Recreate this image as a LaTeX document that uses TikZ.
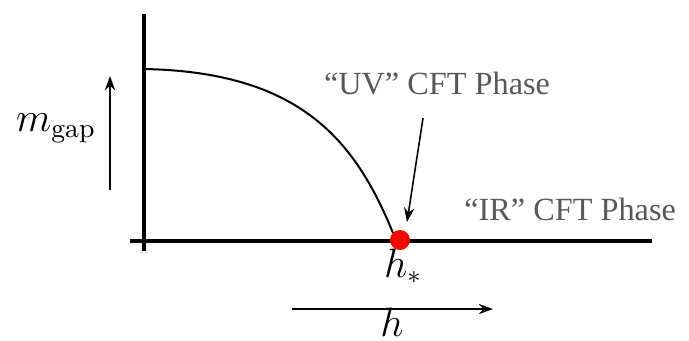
\documentclass[tikz,border=0pt]{standalone}
\usepackage{amsmath}
\usepackage{fontspec}
\newfontfamily\labelfont{Liberation Serif}
\usetikzlibrary{arrows.meta}
\definecolor{phasegray}{RGB}{88,88,88}

\begin{document}
\begin{tikzpicture}[x=0.35pt, y=-0.35pt, >={Stealth[length=5pt,width=3.6pt]},
    axis/.style={line width=1.4pt, black},
    phase/.style={text=phasegray, font=\labelfont\fontsize{11.3}{13}\selectfont},
    mathlabel/.style={font=\fontsize{13.5}{16}\selectfont}]
            \useasboundingbox (0,0) rectangle (689,340);
            % Axes
            \coordinate (ytop) at (144,14);
            \coordinate (ybot) at (144,251);
            \coordinate (xleft) at (130,241);
            \coordinate (xright) at (652,241);
            \draw[axis] (ybot) -- (ytop);
            \draw[axis] (xleft) -- (xright);

            % Gap curve and critical point
            \coordinate (gap0) at (144,69);
            \coordinate (crit) at (400,240);
            \draw[line width=0.7pt] (gap0) .. controls (300,72) and (355,140) .. (393,233);
            \fill[red] (crit) circle (10);

            % Labels
            \node[mathlabel] (mgap) at (56,128) {$m_{\mathrm{gap}}$};
            \node[mathlabel] (hstar) at (403,266) {$h_*$};
            \node[mathlabel, inner sep=1pt] (hlab) at (392,322) {$h$};
            \node[phase] (uv) at (437,84) {“UV” CFT Phase};
            \node[phase, anchor=east] (ir) at (686,209) {“IR” CFT Phase};

            % Arrows
            \coordinate (mfrom) at (110,190);
            \coordinate (mto) at (110,76);
            \draw[->, line width=0.55pt] (mfrom) -- (mto);
            \coordinate (hfrom) at (292,309);
            \coordinate (hto) at (493,309);
            \draw[->, line width=0.55pt] (hfrom) -- (hto);
            \coordinate (uvfrom) at (423,118);
            \coordinate (uvto) at (407,222);
            \draw[->, line width=0.55pt] (uvfrom) -- (uvto);
        \end{tikzpicture}
\end{document}
